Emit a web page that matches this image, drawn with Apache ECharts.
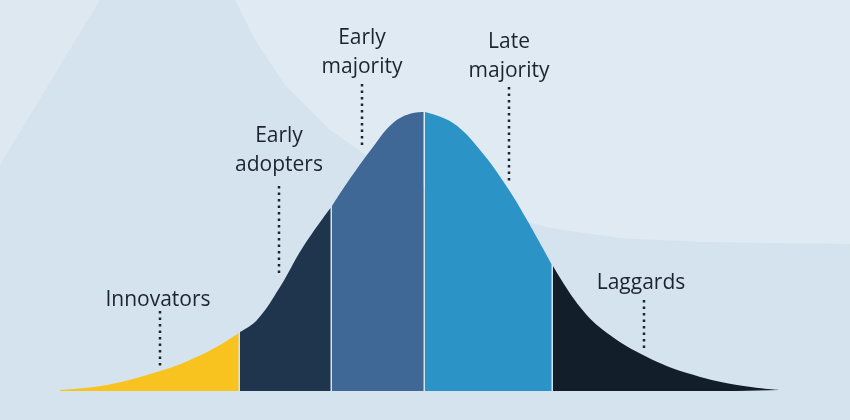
<!DOCTYPE html><html><head><meta charset="utf-8">
<script src="https://cdn.jsdelivr.net/npm/echarts@6/dist/echarts.min.js"></script>
<style>html,body{margin:0;padding:0;background:#d4e3ee}#c{width:850px;height:420px}</style></head><body><div id="c"></div>
<script>
const categories=['Innovators','Early adopters','Early majority','Late majority','Laggards'];
const colors=['#f9c31f','#1f344d','#3f6896','#2b93c6','#121e2a'];
const innovators=[[60,1],[107,6],[157,19],[190,31],[220,46],[238.5,58]];
const earlyAdopters=[[240,59],[257,71],[280,104],[303,144],[330.5,183]];
const earlyMajority=[[332,185],[347,208],[373,244],[393,268],[413,278],[423.5,279]];
const lateMajority=[[425,279],[453,268],[480,241],[507,204],[527,171],[551.5,127]];
const laggards=[[553,125],[580,84],[607,58],[647,34],[687,18],[737,6],[780,1]];
const segs=[innovators,earlyAdopters,earlyMajority,lateMajority,laggards];
const chart=echarts.init(document.getElementById('c'));
const F='"Open Sans", "Noto Sans", sans-serif';
function dots(x,y1,y2){return {type:'line',shape:{x1:x,y1:y1,x2:x,y2:y2},style:{stroke:'#1b2530',lineWidth:2.5,lineDash:[2.5,4]},z:10};}
function txt(t,x,y){return {type:'text',x:x,y:y,style:{text:t,font:'21px '+F,fill:'#1b2530',align:'center',lineHeight:29},z:10};}
chart.setOption({
 backgroundColor:'#d4e3ee',
 animation:false,
 grid:{left:0,right:0,top:0,bottom:29},
 xAxis:{type:'value',min:0,max:850,show:false},
 yAxis:{type:'value',min:0,max:391,show:false},
 graphic:[
  {type:'polygon',shape:{points:[[235,0],[255,40],[285,85],[330,130],[380,165],[430,190],[490,212],[550,228],[620,238],[700,242],[850,244],[850,0]]},style:{fill:'#e0eaf2'},z:-10},
  {type:'polygon',shape:{points:[[0,0],[100,0],[0,165]]},style:{fill:'#dde8f0'},z:-10},
  txt('Innovators',158,286),
  txt('Early\nadopters',279,122),
  txt('Early\nmajority',362,24),
  txt('Late\nmajority',509,28),
  txt('Laggards',641,269),
  dots(160,311,366),dots(279,186,276),dots(362,84,148),dots(509,87,181),dots(644,300,350)
 ],
 series:segs.map((d,i)=>({type:'line',name:categories[i],data:d,smooth:0.4,symbol:'none',
   lineStyle:{width:0},areaStyle:{color:colors[i],opacity:1}}))
});
</script></body></html>
